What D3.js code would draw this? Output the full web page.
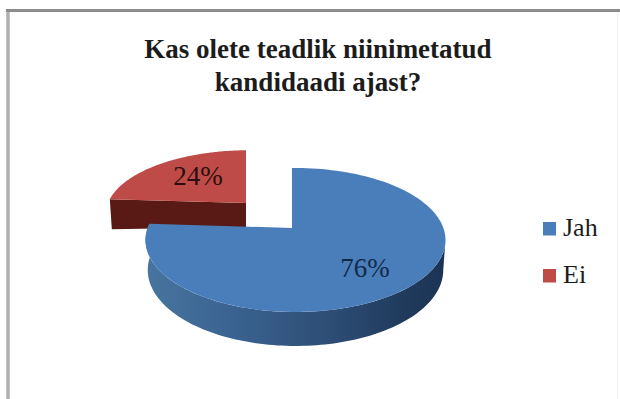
<!DOCTYPE html>
<html>
<head>
<meta charset="utf-8">
<script src="https://cdn.jsdelivr.net/npm/d3@7/dist/d3.min.js"></script>
<style>
html, body { margin: 0; padding: 0; background: #fff; }
svg { display: block; }
text { font-family: "Liberation Serif", serif; fill: #1c1c1c; }
</style>
</head>
<body>
<svg id="chart" width="620" height="399"></svg>
<script>
const categories = ["Jah", "Ei"];
const shares = [76, 24];
const sliceLabels = ["76%", "24%"];
const titleLines = ["Kas olete teadlik niinimetatud", "kandidaadi ajast?"];

const topColors = { Jah: "#4a7ebb", Ei: "#be4b48" };
const svg = d3.select("#chart");

// Frame around the chart area: heavier on top, soft on the left, barely there on the right
svg.append("line").attr("x1", 8).attr("x2", 8).attr("y1", 10).attr("y2", 399)
  .attr("stroke", "#b0b0b0").attr("stroke-width", 3.5);
svg.append("line").attr("x1", 6).attr("x2", 620).attr("y1", 10.5).attr("y2", 10.5)
  .attr("stroke", "#8c8c8c").attr("stroke-width", 3);
svg.append("line").attr("x1", 617.5).attr("x2", 617.5).attr("y1", 12).attr("y2", 399)
  .attr("stroke", "#f1f1f1").attr("stroke-width", 1);

// Title
svg.append("g").selectAll("text").data(titleLines).join("text")
  .attr("x", 318).attr("y", (d, i) => 58 + i * 33)
  .attr("text-anchor", "middle")
  .attr("font-size", 27).attr("font-weight", "bold")
  .text(d => d);

const pie = d3.pie().sort(null).value(d => d)(shares);

// Tilted disc: rim ellipse, with the pie's hub drawn off-centre for perspective
const rim = { cx: 295.5, cy: 240, rx: 150, ry: 72 };
const hub = { x: 292, y: 228 };

// Point where the ray for pie angle a leaves the hub and meets the rim ellipse
function rimPoint(a) {
  const dx = Math.sin(a) * rim.rx, dy = -Math.cos(a) * rim.ry;
  const ox = (hub.x - rim.cx) / rim.rx, oy = (hub.y - rim.cy) / rim.ry;
  const ux = dx / rim.rx, uy = dy / rim.ry;
  const A = ux * ux + uy * uy, B = 2 * (ox * ux + oy * uy), C = ox * ox + oy * oy - 1;
  const t = (-B + Math.sqrt(B * B - 4 * A * C)) / (2 * A);
  return [hub.x + t * dx, hub.y + t * dy];
}

const arcPoints = (a0, a1) => d3.range(0, 121).map(i => rimPoint(a0 + (a1 - a0) * i / 120));
const line = d3.line();

const blue = pie[0], red = pie[1];

// Exploded slice: a smaller copy pulled up and to the left
const redPlace = { dx: -46, dy: -25, sx: 0.955, sy: 0.88, depth: 24 };
const placeRed = p => [
  hub.x + redPlace.dx + (p[0] - hub.x) * redPlace.sx,
  hub.y + redPlace.dy + (p[1] - hub.y) * redPlace.sy
];
const redHub = placeRed([hub.x, hub.y]);
const redLeft = placeRed(rimPoint(red.startAngle));

svg.append("path")
  .attr("d", line([redLeft, redHub, [redHub[0], redHub[1] + redPlace.depth],
                   [redLeft[0] + 2, redLeft[1] + redPlace.depth + 6]]) + "Z")
  .attr("fill", "#591a15");
svg.append("path")
  .attr("d", line([redHub, ...arcPoints(red.startAngle, red.endAngle).map(placeRed)]) + "Z")
  .attr("fill", topColors.Ei);

// Disc wall, shaded from the lit left side to the dark right side
const defs = svg.append("defs");
const wallShade = defs.append("linearGradient").attr("id", "wallShade")
  .attr("gradientUnits", "userSpaceOnUse")
  .attr("x1", rim.cx - rim.rx).attr("x2", rim.cx + rim.rx).attr("y1", 0).attr("y2", 0);
[[0, "#47759f"], [0.3, "#3a6290"], [0.62, "#2d4d74"], [0.85, "#203b5d"], [1, "#1c3454"]]
  .forEach(([o, c]) => wallShade.append("stop").attr("offset", o).attr("stop-color", c));

// The lower rim sits a little narrower than the upper one
const lower = { shiftY: 30, sx: 0.985, sy: 1.055 };
const wallTop = arcPoints(Math.PI / 2 + 0.16, blue.endAngle);
const wallBottom = wallTop
  .map(p => [rim.cx + (p[0] - rim.cx) * lower.sx, rim.cy + lower.shiftY + (p[1] - rim.cy) * lower.sy])
  .reverse();
svg.append("path")
  .attr("d", line([...wallTop, ...wallBottom]) + "Z")
  .attr("fill", "url(#wallShade)");

svg.append("path")
  .attr("d", line([[hub.x, hub.y], ...arcPoints(blue.startAngle, blue.endAngle)]) + "Z")
  .attr("fill", topColors.Jah);

// Slice value labels
const labelSpots = [[365, 277], [198, 185]];
svg.append("g").selectAll("text").data(sliceLabels).join("text")
  .attr("x", (d, i) => labelSpots[i][0]).attr("y", (d, i) => labelSpots[i][1])
  .attr("text-anchor", "middle").attr("font-size", 27)
  .style("fill", (d, i) => i === 0 ? "#122a4a" : "#2a0f0c")
  .text(d => d);

// Legend
const legend = svg.append("g").selectAll("g").data(categories).join("g")
  .attr("transform", (d, i) => `translate(543,${222 + i * 47})`);
legend.append("rect").attr("width", 13).attr("height", 13.5).attr("fill", d => topColors[d]);
legend.append("text").attr("x", 20).attr("y", 14).attr("font-size", 26).text(d => d);
</script>
</body>
</html>
